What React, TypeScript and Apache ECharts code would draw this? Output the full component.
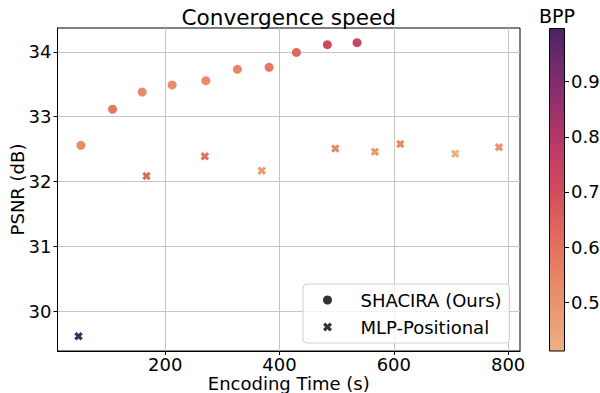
import React, { useEffect, useRef } from "react";
import * as echarts from "echarts";

const shaciraTime = [52.6, 107.9, 159.8, 212.2, 271.2, 326.4, 381.8, 429.6, 483.7, 535.7];
const shaciraPsnr = [32.56, 33.115, 33.38, 33.49, 33.555, 33.73, 33.76, 33.99, 34.11, 34.14];
const shaciraBpp = [0.53, 0.575, 0.53, 0.515, 0.525, 0.54, 0.585, 0.63, 0.71, 0.735];

const mlpTime = [48.4, 167.3, 269.4, 369.0, 497.7, 567.1, 611.4, 707.5, 784.0];
const mlpPsnr = [29.62, 32.087, 32.39, 32.17, 32.51, 32.46, 32.58, 32.43, 32.53];
const mlpBpp = [0.997, 0.63, 0.61, 0.48, 0.525, 0.49, 0.535, 0.412, 0.5];

const xTicks = [200, 400, 600, 800];
const yTicks = [30, 31, 32, 33, 34];
const bppTicks = [0.5, 0.6, 0.7, 0.8, 0.9];

const flare = ["#edb081", "#eb9d74", "#e98a69", "#e5765f", "#de625a", "#d14b5f", "#c13e64", "#a93469", "#8c2e6e", "#6d2a6c", "#4b2362"];

const crossPath = "path://M0,2.6 L2.6,0 L5,2.4 L7.4,0 L10,2.6 L7.6,5 L10,7.4 L7.4,10 L5,7.6 L2.6,10 L0,7.4 L2.4,5 Z";
const FONT = "DejaVu Sans";

export default function App() {
  const ref = useRef<HTMLDivElement>(null);
  useEffect(() => {
    if (!ref.current) return;
    const chart = echarts.init(ref.current, undefined, { renderer: "svg" });
    const sData = shaciraTime.map((t, i) => [t, shaciraPsnr[i], shaciraBpp[i]]);
    const mData = mlpTime.map((t, i) => [t, mlpPsnr[i], mlpBpp[i]]);
    const n = flare.length;
    const gradStops = flare.map((_, i) => ({ offset: i / (n - 1), color: flare[n - 1 - i] }));
    chart.setOption({
      animation: false,
      textStyle: { fontFamily: FONT },
      title: [
        { text: "Convergence speed", left: 288.75, top: 6, padding: 0, textAlign: "center", textStyle: { fontFamily: FONT, fontSize: 21.6, fontWeight: "normal", color: "#000" } },
        { text: "BPP", left: 557, top: 6, padding: 0, textAlign: "center", textStyle: { fontFamily: FONT, fontSize: 19, fontWeight: "normal", color: "#000" } },
      ],
      grid: [
        { left: 57.5, right: 80, top: 28, bottom: 42, show: true, borderColor: "#000", borderWidth: 1, backgroundColor: "transparent", outerBoundsMode: "none", containLabel: false },
        { left: 549, width: 16, top: 28, bottom: 42, show: false, outerBoundsMode: "none", containLabel: false },
      ],
      xAxis: [
        {
          type: "value", gridIndex: 0, min: 11.6, max: 820.8,
          name: "Encoding Time (s)", nameLocation: "middle", nameGap: 23, nameMoveOverlap: false,
          nameTextStyle: { fontFamily: FONT, fontSize: 18, color: "#000" },
          axisLine: { show: true, onZero: false, lineStyle: { color: "#000" } },
          axisTick: { show: true, customValues: xTicks, length: 4, lineStyle: { color: "#000" } },
          axisLabel: { customValues: xTicks, fontFamily: FONT, fontSize: 18, lineHeight: 16, color: "#000", margin: 5 },
          splitLine: { show: true, lineStyle: { color: "#c4c4c4", width: 1 } },
        },
        { type: "category", gridIndex: 1, data: ["bpp"], show: false, boundaryGap: true },
      ],
      yAxis: [
        {
          type: "value", gridIndex: 0, min: 29.394, max: 34.366,
          name: "PSNR (dB)", nameLocation: "middle", nameGap: 31, nameMoveOverlap: false,
          nameTextStyle: { fontFamily: FONT, fontSize: 18, color: "#000" },
          axisLine: { show: true, onZero: false, lineStyle: { color: "#000" } },
          axisTick: { show: true, customValues: yTicks, length: 4, lineStyle: { color: "#000" } },
          axisLabel: { customValues: yTicks, fontFamily: FONT, fontSize: 18, color: "#000", margin: 6 },
          splitLine: { show: true, lineStyle: { color: "#c4c4c4", width: 1 } },
        },
        {
          type: "value", gridIndex: 1, min: 0.412, max: 0.997, position: "right",
          axisLine: { show: false },
          axisTick: { show: true, customValues: bppTicks, length: 4, lineStyle: { color: "#000" } },
          axisLabel: { customValues: bppTicks, fontFamily: FONT, fontSize: 18, color: "#000", margin: 6 },
          splitLine: { show: false },
        },
      ],
      visualMap: {
        type: "continuous", show: false, min: 0.412, max: 0.997, dimension: 2, seriesIndex: [0, 1],
        inRange: { color: flare },
      },
      legend: {
        left: 303, top: 284, orient: "vertical",
        padding: [7, 8, 7, 20], itemGap: 9, itemWidth: 10, itemHeight: 9,
        backgroundColor: "rgba(255,255,255,0.8)", borderColor: "#d0d0d0", borderWidth: 1, borderRadius: 4,
        textStyle: { fontFamily: FONT, fontSize: 18, color: "#000", lineHeight: 18, padding: [0, 0, 0, 23] },
        data: [
          { name: "SHACIRA (Ours)", icon: "circle", itemStyle: { color: "#333" } },
          { name: "MLP-Positional", icon: crossPath, itemStyle: { color: "#333" } },
        ],
      },
      series: [
        { name: "SHACIRA (Ours)", type: "scatter", xAxisIndex: 0, yAxisIndex: 0, symbol: "circle", symbolSize: 9, itemStyle: { color: "#333", opacity: 1 }, data: sData },
        { name: "MLP-Positional", type: "scatter", xAxisIndex: 0, yAxisIndex: 0, symbol: crossPath, symbolSize: 8.5, itemStyle: { color: "#333", opacity: 1 }, data: mData },
        {
          name: "colorbar", type: "bar", xAxisIndex: 1, yAxisIndex: 1, barWidth: "100%", silent: true,
          itemStyle: { color: new echarts.graphic.LinearGradient(0, 0, 0, 1, gradStops), borderColor: "#000", borderWidth: 1 },
          data: [0.997],
        },
      ],
    });
    return () => chart.dispose();
  }, []);
  return <div ref={ref} style={{ width: 600, height: 393, position: "absolute", left: 0, top: 0 }} />;
}
